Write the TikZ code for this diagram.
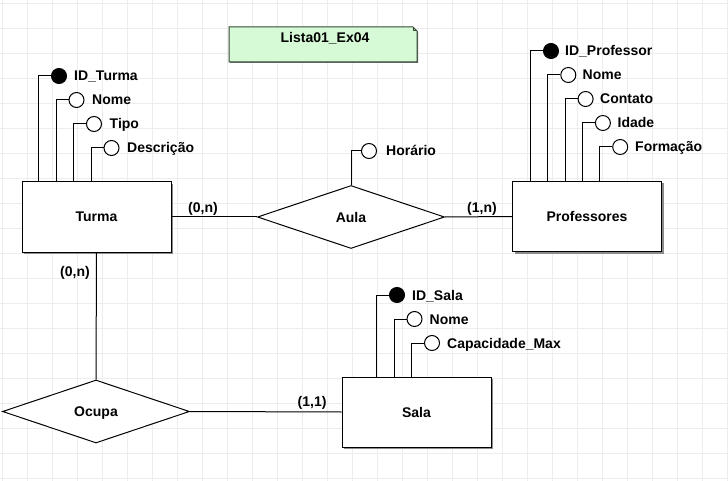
\documentclass[tikz,border=0pt]{standalone}
\usepackage{fontspec}
\setmainfont{Liberation Sans}
\usetikzlibrary{shapes.geometric,shadows}
\definecolor{notefill}{RGB}{214,250,214}
\definecolor{noteline}{RGB}{50,70,50}
\begin{document}
\begin{tikzpicture}[x=1pt,y=-1pt,
  txt/.style={font=\fontsize{14}{16}\selectfont\bfseries},
  entity/.style={txt,draw,line width=1pt,fill=white,minimum width=149pt,minimum height=70pt,inner sep=0pt,text depth=0pt,
    drop shadow={shadow xshift=2pt,shadow yshift=-2pt,fill=black!45,opacity=1}},
  rel/.style={txt,draw,diamond,line width=1pt,fill=white,minimum width=187pt,minimum height=63pt,inner sep=0pt,text depth=0pt},
  attr/.style={circle,draw,line width=1pt,fill=white,minimum size=15pt,inner sep=0pt},
  key/.style={attr,fill=black},
  lbl/.style={txt,anchor=base west,inner sep=0pt},
  conn/.style={line width=1pt},
  gridline/.style={black!7,line width=0.7pt}
]
\useasboundingbox (0,0) rectangle (728,481);
\fill[white] (0,0) rectangle (728,481);
% grid
\foreach \gx in {2,27,...,727} \draw[gridline] (\gx,0) -- (\gx,481);
\foreach \gy in {3,28,...,478} \draw[gridline] (0,\gy) -- (728,\gy);

% note
\fill[black!55] (230,28) -- (414,28) -- (418,32) -- (418,63) -- (230,63) -- cycle;
\draw[fill=notefill,draw=noteline,line width=1pt]
  (229,27) -- (413,27) -- (417,31) -- (417,62) -- (229,62) -- cycle;
\draw[noteline,line width=1pt] (413,27) -- (413,31) -- (417,31);
\node[txt,inner sep=0pt] (note) at (325,38) {Lista01\_Ex04};

% entities
\node[entity] (tu) at (96.5,217) {Turma};
\node[entity] (pr) at (587,216.5) {Professores};
\node[entity] (sa) at (416.5,412) {Sala};

% relationships
\node[rel] (au) at (351,217) {Aula};
\node[rel] (oc) at (96,411.5) {Ocupa};

% relationship lines
\draw[conn] (tu.east) -- (au.west);
\draw[conn] (au.east) -- (pr.west);
\draw[conn] (tu.south) -- (oc.north);
\draw[conn] (oc.east) -- (sa.west);
\node[lbl] (c1) at (188,212) {(0,n)};
\node[lbl] (c2) at (467,212) {(1,n)};
\node[lbl] (c3) at (60,276) {(0,n)};
\node[lbl] (c4) at (297.5,406) {(1,1)};

% Turma attributes
\node[key]  (t1) at (59,76) {};
\node[attr] (t2) at (76.5,100) {};
\node[attr] (t3) at (94,124) {};
\node[attr] (t4) at (111.5,148) {};
\node[lbl] at (74,81) {ID\_Turma};
\node[lbl] at (92,105) {Nome};
\node[lbl] at (109.5,129) {Tipo};
\node[lbl] at (127,153) {Descrição};
\foreach \a in {t1,t2,t3,t4}
  \draw[conn] (\a.west) -- ++(-12.5,0) coordinate (\a c) -- (\a c |- tu.north);

% Horario
\node[attr] (h1) at (369,151) {};
\node[lbl] at (386,156) {Horário};
\draw[conn] (h1.west) -| (au.north);

% Professores attributes
\node[key]  (p1) at (551,51) {};
\node[attr] (p2) at (568.3,75) {};
\node[attr] (p3) at (585.6,99) {};
\node[attr] (p4) at (602.9,123) {};
\node[attr] (p5) at (620.2,147) {};
\node[lbl] at (565,56) {ID\_Professor};
\node[lbl] at (582.5,80) {Nome};
\node[lbl] at (600,104) {Contato};
\node[lbl] at (617.5,128) {Idade};
\node[lbl] at (635,152) {Formação};
\foreach \a in {p1,p2,p3,p4,p5}
  \draw[conn] (\a.west) -- ++(-12.5,0) coordinate (\a c) -- (\a c |- pr.north);

% Sala attributes
\node[key]  (s1) at (397,295) {};
\node[attr] (s2) at (414.5,319) {};
\node[attr] (s3) at (432,343) {};
\node[lbl] at (412,300) {ID\_Sala};
\node[lbl] at (429.5,324) {Nome};
\node[lbl] at (447,348) {Capacidade\_Max};
\foreach \a in {s1,s2,s3}
  \draw[conn] (\a.west) -- ++(-12.5,0) coordinate (\a c) -- (\a c |- sa.north);
\end{tikzpicture}
\end{document}
